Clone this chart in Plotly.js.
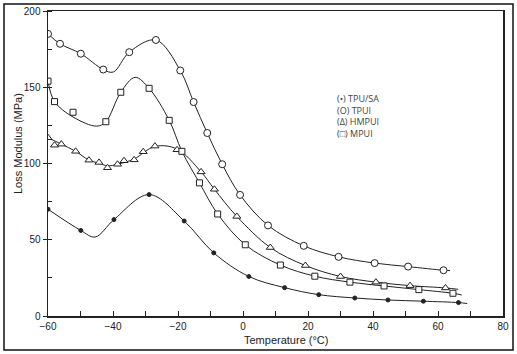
<!DOCTYPE html>
<html>
<head>
<meta charset="utf-8">
<script src="https://cdn.plot.ly/plotly-3.0.1.min.js"></script>
<style>
html,body{margin:0;padding:0;background:#fff;}
#chart{width:517px;height:354px;}
</style>
</head>
<body>
<div id="chart"></div>
<script>
// ---- Data ----
// Marker points
const tpusaX = [-60, -49.9, -39.7, -28.9, -18.1, -9, 1.8, 12.8, 23.3, 34.4, 44.6, 55.5, 66.3];
const tpusaY = [70, 56.1, 63.2, 79.6, 62.3, 41.4, 25.9, 18.6, 14, 11.8, 10.5, 9.7, 8.8];

const tpuiX = [-60, -56.3, -49.9, -43, -35, -26.8, -19.3, -15.2, -11, -6.4, -0.9, 7.7, 18.7, 29.4, 40.5, 50.8, 61.7];
const tpuiY = [185, 178.5, 172, 161.6, 173, 181, 161, 140.3, 120, 99.5, 79.4, 59.4, 46, 38.8, 34.7, 32.4, 30];

const hmpuiX = [-60, -58, -55.9, -51.5, -47.4, -44.3, -41.7, -38.6, -36.6, -33.5, -30.7, -27.1, -20.3, -12.9, -8.8, -1.9, 8.4, 19.2, 30, 40.9, 51.4, 62.3];
const hmpuiY = [116.9, 112, 112.7, 108, 102.2, 100.7, 97.2, 99.5, 101.8, 102.4, 107.7, 111.4, 109, 94.5, 83.1, 65.3, 44.9, 33.1, 25.9, 22.2, 19.9, 18.4];

const mpuiX = [-60, -58, -52.3, -42.2, -37.6, -28.9, -22.7, -18.8, -13.4, -7.8, 0.7, 11.5, 22.1, 32.9, 43.4, 54.1, 64.6];
const mpuiY = [154, 140.6, 133.6, 127.4, 146.7, 149.3, 128.3, 108, 87.3, 66.9, 46.7, 33.4, 26.1, 22.2, 19.7, 17.3, 14.9];

// Drawn smooth curves
const tpusaCurveX = [-60, -49.9, -45.5, -39.7, -28.9, -18.1, -9, 1.8, 12.8, 23.3, 34.4, 44.6, 55.5, 66.3, 69];
const tpusaCurveY = [70, 56.1, 51.8, 63.2, 79.6, 62.3, 41.4, 25.9, 18.6, 14, 11.8, 10.5, 9.7, 8.8, 8.2];

const tpuiCurveX = [-60, -56.3, -49.9, -43, -39.9, -35, -26.8, -19.3, -15.2, -11, -6.4, -0.9, 7.7, 18.7, 29.4, 40.5, 50.8, 61.7, 63.7];
const tpuiCurveY = [185, 178.5, 172, 161.6, 160, 173, 181, 161, 140.3, 120, 99.5, 79.4, 59.4, 46, 38.8, 34.7, 32.4, 30, 29.8];

const hmpuiCurveX = [-60, -55.9, -51.5, -47.4, -44.3, -41.7, -38.6, -33.5, -27.1, -20.3, -12.9, -8.8, -1.9, 8.4, 19.2, 30, 40.9, 51.4, 62.3, 66.2];
const hmpuiCurveY = [116.9, 112.7, 108, 102.2, 100.2, 98.5, 99.5, 103, 111.2, 109.5, 94.5, 83.1, 65.3, 44.9, 33.1, 25.9, 22.2, 19.9, 18.4, 17.5];

const mpuiCurveX = [-60, -58, -52.3, -45, -42.2, -37.6, -33.2, -28.9, -22.7, -18.8, -13.4, -7.8, 0.7, 11.5, 22.1, 32.9, 43.4, 54.1, 64.6, 67.3];
const mpuiCurveY = [154, 140.6, 130.5, 124.5, 127.4, 146.7, 156.5, 149.3, 128.3, 108, 87.3, 66.9, 46.7, 33.4, 26.1, 22.2, 19.7, 17.3, 14.9, 13.8];

// Labels
const legendLabels = ["(•) TPU/SA", "(O) TPUI", "(Δ) HMPUI", "(□) MPUI"];
const xTitle = "Temperature (°C)";
const yTitle = "Loss Modulus (MPa)";
const yTickVals = [0, 50, 100, 150, 200];
const xTickVals = [-60, -40, -20, 0, 20, 40, 60, 80];

// ---- Styling ----
const ink = "#222";
const lineStyle = {color: ink, width: 1, shape: "spline", smoothing: 1};

function curve(x, y) {
  return {x: x, y: y, mode: "lines", line: lineStyle, hoverinfo: "skip", showlegend: false};
}
function marks(x, y, name, symbol, size, fill) {
  return {x: x, y: y, mode: "markers", name: name, showlegend: false,
    marker: {symbol: symbol, size: size, color: fill, line: {color: ink, width: 1}}};
}

const traces = [
  curve(tpusaCurveX, tpusaCurveY),
  curve(tpuiCurveX, tpuiCurveY),
  curve(hmpuiCurveX, hmpuiCurveY),
  curve(mpuiCurveX, mpuiCurveY),
  marks(tpusaX, tpusaY, "TPU/SA", "circle", 4, ink),
  marks(tpuiX, tpuiY, "TPUI", "circle", 7, "#fff"),
  marks(hmpuiX, hmpuiY, "HMPUI", "triangle-up", 7, "#fff"),
  marks(mpuiX, mpuiY, "MPUI", "square", 6, "#fff")
];

const annotations = [{
  text: legendLabels.join("<br>"), xref: "paper", yref: "paper", x: 0.631, y: 0.657,
  xanchor: "left", yanchor: "middle", align: "left", showarrow: false,
  font: {family: "Open Sans, sans-serif", size: 9, color: "#444"}
}, {
  text: xTitle, xref: "paper", yref: "paper", x: 0.523, y: -0.079,
  xanchor: "center", yanchor: "middle", showarrow: false,
  font: {family: "Liberation Sans, Arial, sans-serif", size: 11, color: ink}
}, {
  text: yTitle, xref: "paper", yref: "paper", x: -0.066, y: 0.567,
  xanchor: "center", yanchor: "middle", showarrow: false, textangle: -90,
  font: {family: "Liberation Sans, Arial, sans-serif", size: 11, color: ink}
}];

const layout = {
  width: 517, height: 354,
  margin: {l: 48, r: 14, t: 11, b: 38, pad: 0},
  paper_bgcolor: "#fff", plot_bgcolor: "#fff",
  showlegend: false,
  font: {family: "Liberation Sans, Arial, sans-serif", size: 10, color: ink},
  xaxis: {
    range: [-60, 80], tickvals: xTickVals, ticks: "inside", ticklen: 5,
    tickcolor: ink, tickwidth: 1,
    minor: {dtick: 10, tick0: -60, ticks: "inside", ticklen: 5, tickcolor: ink, tickwidth: 1},
    showline: true, linecolor: ink, linewidth: 1.5, mirror: true,
    showgrid: false, zeroline: false,
    tickfont: {size: 10, color: ink}
  },
  yaxis: {
    range: [0, 200], tickvals: yTickVals, ticks: "outside", ticklen: 4,
    tickcolor: ink, tickwidth: 1,
    minor: {dtick: 25, tick0: 0, ticks: "inside", ticklen: 4, tickcolor: ink, tickwidth: 1},
    showline: true, linecolor: ink, linewidth: 1.5, mirror: true,
    showgrid: false, zeroline: false,
    tickfont: {size: 10, color: ink}
  },
  annotations: annotations,
  shapes: [{
    type: "rect", xref: "paper", yref: "paper",
    x0: -0.0967, x1: 1.022, y0: -0.1115, y1: 1.023,
    line: {color: "#111", width: 1.5}, fillcolor: "rgba(0,0,0,0)", layer: "above"
  }]
};

Plotly.newPlot("chart", traces, layout, {staticPlot: true, displayModeBar: false});
</script>
</body>
</html>
